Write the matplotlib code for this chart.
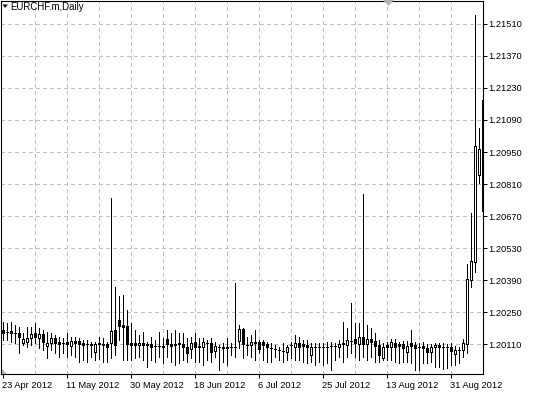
import matplotlib
matplotlib.use("Agg")
import matplotlib.pyplot as plt
from matplotlib.patches import Polygon
import numpy as np

symbol_label = "EURCHF.m,Daily"

opens = [1.20171, 1.20164, 1.20168, 1.20159, 1.20159, 1.20116, 1.20120, 1.20135, 1.20156, 1.20137,
         1.20152, 1.20101, 1.20113, 1.20137, 1.20117, 1.20116, 1.20120, 1.20103, 1.20124, 1.20123,
         1.20116, 1.20110, 1.20110, 1.20076, 1.20113, 1.20108, 1.20108, 1.20114, 1.20171, 1.20215,
         1.20193, 1.20189, 1.20113, 1.20113, 1.20104, 1.20113, 1.20108, 1.20108, 1.20101, 1.20101,
         1.20103, 1.20130, 1.20110, 1.20108, 1.20113, 1.20110, 1.20095, 1.20086, 1.20120, 1.20103,
         1.20095, 1.20116, 1.20113, 1.20081, 1.20098, 1.20095, 1.20095, 1.20098, 1.20098, 1.20124,
         1.20174, 1.20105, 1.20105, 1.20117, 1.20117, 1.20117, 1.20110, 1.20094, 1.20088, 1.20084,
         1.20081, 1.20076, 1.20105, 1.20095, 1.20116, 1.20110, 1.20105, 1.20062, 1.20098, 1.20098,
         1.20098, 1.20098, 1.20101, 1.20101, 1.20095, 1.20113, 1.20105, 1.20124, 1.20130, 1.20110,
         1.20139, 1.20110, 1.20132, 1.20124, 1.20105, 1.20047, 1.20106, 1.20098, 1.20116, 1.20109,
         1.20109, 1.20076, 1.20116, 1.20106, 1.20099, 1.20103, 1.20094, 1.20074, 1.20095, 1.20107,
         1.20099, 1.20096, 1.20098, 1.20066, 1.20084, 1.20084, 1.20110, 1.20390, 1.20469, 1.20849,
         1.21178]
highs = [1.20205, 1.20200, 1.20207, 1.20193, 1.20186, 1.20156, 1.20183, 1.20186, 1.20200, 1.20178,
         1.20171, 1.20164, 1.20156, 1.20149, 1.20142, 1.20135, 1.20156, 1.20142, 1.20142, 1.20135,
         1.20127, 1.20127, 1.20120, 1.20120, 1.20140, 1.20135, 1.20120, 1.20749, 1.20359, 1.20320,
         1.20324, 1.20259, 1.20200, 1.20171, 1.20149, 1.20164, 1.20120, 1.20142, 1.20127, 1.20164,
         1.20135, 1.20171, 1.20156, 1.20171, 1.20156, 1.20156, 1.20135, 1.20142, 1.20156, 1.20135,
         1.20135, 1.20127, 1.20135, 1.20120, 1.20105, 1.20113, 1.20135, 1.20113, 1.20377, 1.20193,
         1.20178, 1.20142, 1.20149, 1.20171, 1.20127, 1.20127, 1.20120, 1.20113, 1.20105, 1.20098,
         1.20113, 1.20105, 1.20120, 1.20149, 1.20142, 1.20127, 1.20127, 1.20113, 1.20113, 1.20113,
         1.20113, 1.20120, 1.20120, 1.20113, 1.20127, 1.20207, 1.20178, 1.20288, 1.20200, 1.20200,
         1.20766, 1.20193, 1.20178, 1.20156, 1.20127, 1.20113, 1.20120, 1.20130, 1.20130, 1.20120,
         1.20125, 1.20125, 1.20171, 1.20120, 1.20113, 1.20120, 1.20109, 1.20110, 1.20113, 1.20113,
         1.20113, 1.20109, 1.20113, 1.20101, 1.20098, 1.20130, 1.20460, 1.20683, 1.21549, 1.21055,
         1.21186]
lows = [1.20127, 1.20127, 1.20120, 1.20113, 1.20069, 1.20105, 1.20098, 1.20105, 1.20113, 1.20091,
        1.20084, 1.20047, 1.20084, 1.20069, 1.20055, 1.20069, 1.20055, 1.20062, 1.20055, 1.20033,
        1.20040, 1.20033, 1.20055, 1.20040, 1.20045, 1.20033, 1.20033, 1.20049, 1.20062, 1.20128,
        1.20040, 1.20040, 1.20040, 1.20047, 1.20055, 1.20040, 1.20011, 1.20040, 1.20033, 1.20055,
        1.20025, 1.20055, 1.20033, 1.20018, 1.20025, 1.20040, 1.20033, 1.20047, 1.20033, 1.20033,
        1.20018, 1.20040, 1.20033, 1.20055, 1.19996, 1.20033, 1.20018, 1.20062, 1.20055, 1.20091,
        1.20047, 1.20062, 1.20055, 1.20040, 1.20069, 1.20040, 1.20033, 1.20033, 1.20055, 1.20040,
        1.20033, 1.20040, 1.20047, 1.20040, 1.20040, 1.20033, 1.20025, 1.20033, 1.20018, 1.20033,
        1.20018, 1.20025, 1.19996, 1.20040, 1.20055, 1.20033, 1.20055, 1.20069, 1.20055, 1.20040,
        1.20055, 1.20040, 1.20055, 1.20033, 1.20033, 1.20040, 1.20040, 1.20040, 1.20033, 1.20028,
        1.20033, 1.20033, 1.20025, 1.19996, 1.19996, 1.20025, 1.20028, 1.20033, 1.20011, 1.20011,
        1.19999, 1.20004, 1.20018, 1.20018, 1.20025, 1.20055, 1.20071, 1.20359, 1.20425, 1.20814,
        1.20683]
closes = [1.20156, 1.20163, 1.20156, 1.20158, 1.20139, 1.20130, 1.20137, 1.20152, 1.20139, 1.20152,
          1.20117, 1.20116, 1.20137, 1.20113, 1.20110, 1.20115, 1.20108, 1.20124, 1.20113, 1.20110,
          1.20105, 1.20109, 1.20105, 1.20110, 1.20112, 1.20104, 1.20095, 1.20167, 1.20106, 1.20189,
          1.20184, 1.20110, 1.20105, 1.20104, 1.20116, 1.20104, 1.20107, 1.20098, 1.20100, 1.20100,
          1.20095, 1.20108, 1.20101, 1.20107, 1.20112, 1.20098, 1.20069, 1.20116, 1.20098, 1.20095,
          1.20120, 1.20115, 1.20076, 1.20103, 1.20097, 1.20094, 1.20094, 1.20097, 1.20097, 1.20174,
          1.20110, 1.20104, 1.20120, 1.20116, 1.20086, 1.20105, 1.20098, 1.20093, 1.20087, 1.20083,
          1.20080, 1.20095, 1.20104, 1.20116, 1.20095, 1.20101, 1.20095, 1.20098, 1.20097, 1.20097,
          1.20097, 1.20097, 1.20100, 1.20100, 1.20110, 1.20112, 1.20127, 1.20123, 1.20113, 1.20139,
          1.20110, 1.20132, 1.20120, 1.20103, 1.20062, 1.20095, 1.20098, 1.20117, 1.20098, 1.20101,
          1.20094, 1.20103, 1.20103, 1.20094, 1.20098, 1.20094, 1.20074, 1.20098, 1.20107, 1.20095,
          1.20098, 1.20095, 1.20081, 1.20084, 1.20085, 1.20113, 1.20394, 1.20473, 1.20976, 1.20963,
          1.20690]

xtick_bars = [0, 16, 32, 48, 64, 80, 96, 112]
xtick_labels = ["23 Apr 2012", "11 May 2012", "30 May 2012", "18 Jun 2012",
                "6 Jul 2012", "25 Jul 2012", "13 Aug 2012", "31 Aug 2012"]
ytick_values = [1.20110, 1.20250, 1.20390, 1.20530, 1.20670, 1.20810,
                1.20950, 1.21090, 1.21230, 1.21370, 1.21510]

W, H = 536, 396
FS = 6.7
plt.rcParams["font.family"] = ["Liberation Sans", "DejaVu Sans"]
fig = plt.figure(figsize=(W / 100, H / 100), dpi=100)
fig.patch.set_facecolor("white")
ax = fig.add_axes([1 / W, 22 / H, 482 / W, 373 / H])

n = len(opens)
x = np.arange(n)
o = np.array(opens); h = np.array(highs); l = np.array(lows); c = np.array(closes)

# grid
grid_kw = dict(color="#c0c0c0", lw=0.72, ls=(0, (3, 3)), zorder=0, antialiased=False)
for gx in np.arange(8, n, 8):
    ax.axvline(gx, **grid_kw)
for gy in ytick_values:
    ax.axhline(gy, **grid_kw)

# wicks
ax.vlines(x, l, h, colors="black", lw=0.72, zorder=2, antialiased=False)
# bodies
bottoms = np.minimum(o, c)
heights = np.abs(c - o)
faces = ["white" if cc >= oo else "black" for oo, cc in zip(o, c)]
ax.bar(x, heights, bottom=bottoms, width=0.5, color=faces, edgecolor="black",
       linewidth=0.72, zorder=3, antialiased=False)

ax.set_xlim(-0.375, 120.125)
ax.set_ylim(1.199788, 1.216106)

for s in ax.spines.values():
    s.set_color("black")
    s.set_linewidth(0.8)

ax.yaxis.tick_right()
ax.set_yticks(ytick_values)
ax.set_yticklabels([f"{v:.5f}" for v in ytick_values])
ax.set_xticks(xtick_bars)
ax.set_xticklabels(xtick_labels, ha="left")
ax.tick_params(axis="both", direction="out", length=2.9, width=0.72, colors="black",
               labelsize=FS)
ax.tick_params(axis="y", pad=1.2)
ax.tick_params(axis="x", pad=2.0)

def px(xp, yp):
    return (xp / W, 1 - yp / H)

# title label with triangle
fig.patches.append(Polygon([px(2.5, 4.5), px(7.8, 4.5), px(5.15, 7.8)], closed=True,
                           transform=fig.transFigure, facecolor="black", edgecolor="none"))
fig.text(10 / W, 1 - 6.5 / H, symbol_label, ha="left", va="center", fontsize=FS + 0.2,
         color="black")

# shift marker at top and corner marker
fig.patches.append(Polygon([px(383, 0), px(394, 0), px(388.5, 6)], closed=True,
                           transform=fig.transFigure, facecolor="#b4b4b4", edgecolor="none"))
fig.patches.append(Polygon([px(2, 369), px(2, 373.5), px(6.5, 373.5)], closed=True,
                           transform=fig.transFigure, facecolor="#b4b4b4", edgecolor="none"))

fig.savefig("out.png", dpi=100, facecolor="white")
